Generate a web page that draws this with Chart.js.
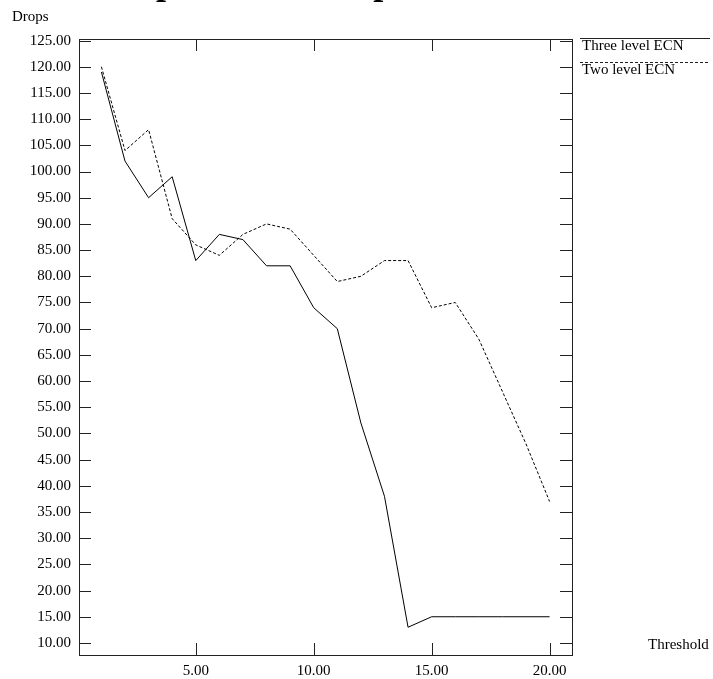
<!DOCTYPE html>
<html>
<head>
<meta charset="utf-8">
<script src="https://cdn.jsdelivr.net/npm/chart.js@4/dist/chart.umd.min.js"></script>
<style>
  html, body { margin: 0; padding: 0; background: #fff; }
  #wrap { width: 713px; height: 679px; }
</style>
</head>
<body>
<div id="wrap"><canvas id="chart" width="713" height="679"></canvas></div>
<script>
const thresholds = [1, 2, 3, 4, 5, 6, 7, 8, 9, 10, 11, 12, 13, 14, 15, 16, 17, 18, 19, 20];
const threeLevel = [119, 102, 95, 99, 83, 88, 87, 82, 82, 74, 70, 52, 38, 13, 15, 15, 15, 15, 15, 15];
const twoLevel = [120, 104, 108, 91, 86, 84, 88, 90, 89, 84, 79, 80, 83, 83, 74, 75, 68, 58, 48, 37];
const seriesNames = ["Three level ECN", "Two level ECN"];
const xTicks = [5, 10, 15, 20];
const yTicks = [10, 15, 20, 25, 30, 35, 40, 45, 50, 55, 60, 65, 70, 75, 80, 85, 90, 95, 100, 105, 110, 115, 120, 125];

const FONT = "'Liberation Serif', 'Times New Roman', serif";
const toPoints = (ys) => thresholds.map((x, i) => ({ x, y: ys[i] }));

// frame, inward tick marks, axis names, legend and the clipped title
const decor = {
  id: "decor",
  afterDraw(chart) {
    const { ctx, chartArea: a, scales } = chart;
    ctx.save();
    ctx.strokeStyle = "#222";
    ctx.lineWidth = 1;
    ctx.strokeRect(a.left + 0.5, a.top + 0.5, a.right - a.left, a.bottom - a.top);
    ctx.beginPath();
    yTicks.forEach((v) => {
      const y = Math.round(scales.y.getPixelForValue(v)) + 0.5;
      ctx.moveTo(a.left, y); ctx.lineTo(a.left + 12, y);
      ctx.moveTo(a.right - 12, y); ctx.lineTo(a.right, y);
    });
    xTicks.forEach((v) => {
      const x = Math.round(scales.x.getPixelForValue(v)) + 0.5;
      ctx.moveTo(x, a.bottom); ctx.lineTo(x, a.bottom - 12);
      ctx.moveTo(x, a.top); ctx.lineTo(x, a.top + 12);
    });
    ctx.stroke();

    ctx.fillStyle = "#000";
    ctx.font = "15px " + FONT;
    ctx.textBaseline = "alphabetic";
    ctx.fillText("Drops", 12, 21);
    ctx.fillText("Threshold", 648, 649);

    chart.data.datasets.forEach((ds, i) => {
      const ly = 38 + i * 24;
      ctx.beginPath();
      ctx.setLineDash(ds.borderDash || []);
      ctx.moveTo(580, ly + 0.5);
      ctx.lineTo(710, ly + 0.5);
      ctx.stroke();
      ctx.setLineDash([]);
      ctx.fillText(ds.label, 582, ly + 12);
    });

    // title sits above the canvas, only the descenders show
    ctx.font = "bold 36px " + FONT;
    ctx.fillText("Comparison of drops with three level and two level ECN", 82, -6);
    ctx.restore();
  }
};

new Chart(document.getElementById("chart"), {
  type: "line",
  data: {
    datasets: [
      {
        label: seriesNames[0],
        data: toPoints(threeLevel),
        borderColor: "#000",
        borderWidth: 1,
        pointRadius: 0,
        tension: 0
      },
      {
        label: seriesNames[1],
        data: toPoints(twoLevel),
        borderColor: "#000",
        borderWidth: 1,
        borderDash: [3, 2],
        pointRadius: 0,
        tension: 0
      }
    ]
  },
  options: {
    responsive: false,
    animation: false,
    layout: { padding: { left: 0, top: 39, right: 141, bottom: 0 } },
    plugins: { legend: { display: false }, tooltip: { enabled: false } },
    scales: {
      x: {
        type: "linear",
        min: 0.05,
        max: 20.95,
        afterBuildTicks: (s) => { s.ticks = xTicks.map((v) => ({ value: v })); },
        afterFit: (s) => { s.height = 24; },
        grid: { display: false, drawTicks: false },
        border: { display: false },
        ticks: {
          padding: 7,
          color: "#000",
          font: { family: FONT, size: 15 },
          callback: (v) => Number(v).toFixed(2)
        }
      },
      y: {
        min: 7.7,
        max: 125.3,
        afterBuildTicks: (s) => { s.ticks = yTicks.map((v) => ({ value: v })); },
        afterFit: (s) => { s.width = 79; },
        grid: { display: false, drawTicks: false },
        border: { display: false },
        ticks: {
          padding: 8,
          color: "#000",
          font: { family: FONT, size: 15 },
          callback: (v) => Number(v).toFixed(2)
        }
      }
    }
  },
  plugins: [decor]
});
</script>
</body>
</html>
